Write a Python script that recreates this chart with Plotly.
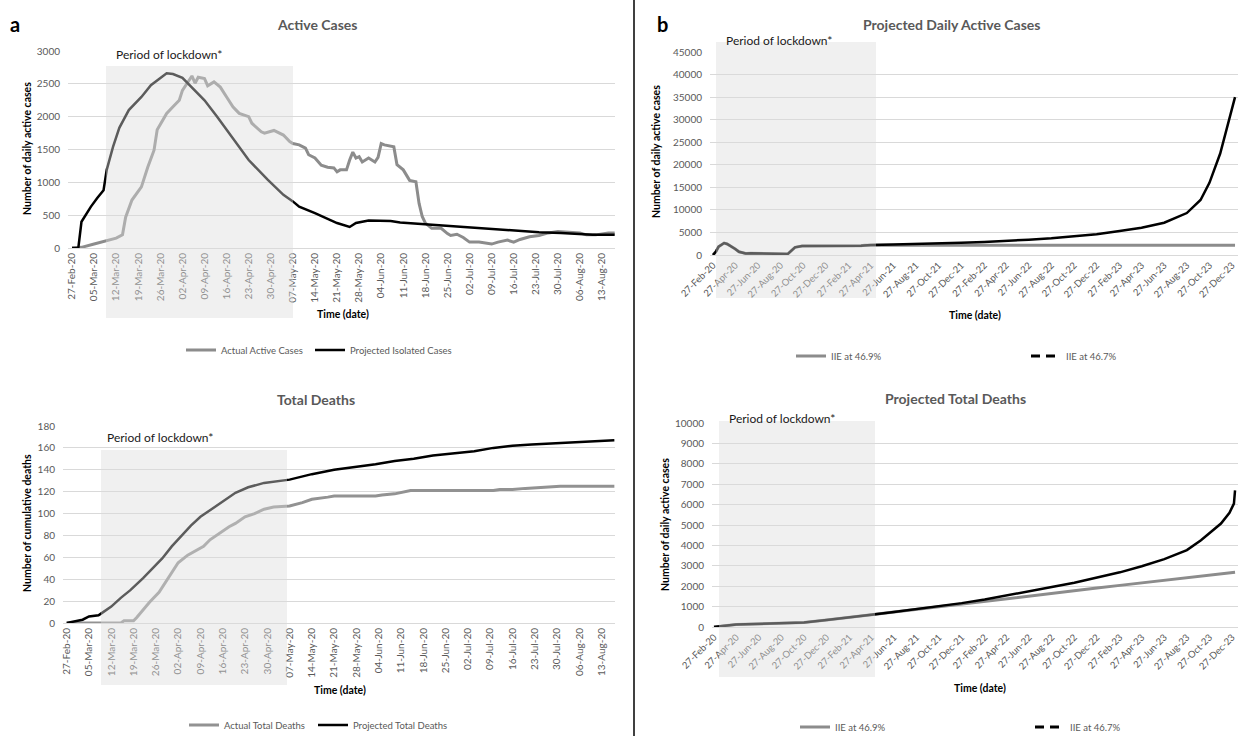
import pandas as pd
import plotly.graph_objects as go

W, H = 1238, 736
START = pd.Timestamp("2020-02-27")

# ---------------- data ----------------
# Panel a (top): Active cases, day offsets from 27-Feb-20
active_actual_day = [0, 3, 7, 11, 14, 16, 17, 19, 22, 24,
                     26, 27, 30, 32, 34, 35, 37, 38, 39, 40,
                     42, 43, 45, 47, 49, 51, 52, 53, 56, 57,
                     60, 61, 64, 67, 69, 70, 72, 74, 75, 77,
                     79, 81, 83, 84, 85, 87, 88, 89, 90, 91,
                     92, 94, 96, 97, 98, 99, 102, 103, 105, 107,
                     109, 110, 111, 112, 114, 117, 119, 120, 122, 124,
                     126, 129, 133, 135, 138, 140, 142, 145, 148, 151,
                     154, 157, 161, 163, 166, 170, 172]
active_actual = [0, 10, 60, 110, 150, 200, 470, 730, 930, 1230,
                 1490, 1800, 2050, 2150, 2250, 2400, 2560, 2620, 2510, 2600,
                 2580, 2470, 2530, 2450, 2300, 2150, 2100, 2050, 2000, 1900,
                 1770, 1750, 1790, 1720, 1620, 1590, 1570, 1520, 1420, 1370,
                 1260, 1230, 1220, 1160, 1190, 1190, 1340, 1460, 1370, 1390,
                 1310, 1370, 1310, 1380, 1590, 1570, 1540, 1270, 1190, 1030,
                 1010, 680, 480, 380, 300, 300, 220, 190, 210, 160,
                 90, 90, 60, 90, 120, 90, 130, 170, 190, 230,
                 250, 240, 230, 200, 200, 230, 230]

active_proj_day = [0, 2, 3, 6, 8, 10, 11, 13, 15, 18,
                   22, 25, 30, 32, 35, 38, 42, 46, 51, 56,
                   62, 67, 70, 72, 77, 81, 84, 88, 90, 94,
                   101, 104, 110, 117, 123, 129, 136, 142, 148, 155,
                   161, 165, 172]
active_proj = [0, 0, 400, 630, 760, 880, 1190, 1540, 1830, 2100,
               2300, 2480, 2660, 2650, 2590, 2450, 2250, 2000, 1670, 1340,
               1040, 810, 710, 630, 530, 450, 380, 320, 380, 420,
               410, 390, 370, 350, 330, 300, 280, 260, 240, 230,
               210, 200, 200]

# Panel a (bottom): Total deaths
deaths_actual_day = [0, 17, 18, 21, 22, 24, 26, 29, 31, 33,
                     35, 38, 40, 43, 45, 48, 51, 53, 56, 59,
                     62, 65, 70, 74, 77, 82, 84, 97, 99, 103,
                     105, 108, 111, 134, 136, 140, 144, 150, 155, 172]
deaths_actual = [0, 0, 2, 2, 5, 12, 19, 28, 37, 45,
                 55, 62, 65, 70, 76, 82, 88, 91, 97, 100,
                 104, 106, 107, 110, 113, 115, 116, 116, 117, 118,
                 119, 121, 121, 121, 122, 122, 123, 124, 125, 125]

deaths_proj_day = [0, 5, 7, 10, 11, 14, 17, 20, 24, 27,
                   30, 33, 36, 39, 42, 46, 49, 53, 57, 62,
                   70, 77, 84, 90, 97, 103, 109, 115, 122, 128,
                   134, 140, 146, 152, 159, 165, 172]
deaths_proj = [0, 3, 6, 7, 9, 15, 23, 30, 41, 50,
               59, 70, 80, 89, 97, 105, 111, 119, 124, 128,
               131, 136, 140, 142, 145, 148, 150, 153, 155, 157,
               160, 162, 163, 164, 165, 166, 167]

a_tick_labels = ["27-Feb-20", "05-Mar-20", "12-Mar-20", "19-Mar-20", "26-Mar-20",
                 "02-Apr-20", "09-Apr-20", "16-Apr-20", "23-Apr-20", "30-Apr-20",
                 "07-May-20", "14-May-20", "21-May-20", "28-May-20", "04-Jun-20",
                 "11-Jun-20", "18-Jun-20", "25-Jun-20", "02-Jul-20", "09-Jul-20",
                 "16-Jul-20", "23-Jul-20", "30-Jul-20", "06-Aug-20", "13-Aug-20"]

# Panel b (top): Projected daily active cases
b_active_469_date = ["2020-02-27", "2020-03-06", "2020-03-13", "2020-03-20", "2020-03-28",
                     "2020-04-05", "2020-04-15", "2020-04-27", "2020-05-07", "2020-05-25",
                     "2020-06-08", "2020-07-01", "2020-08-01", "2020-09-15", "2020-10-05",
                     "2020-10-24", "2021-04-01", "2021-04-10", "2024-01-04"]
b_active_469 = [0, 760, 1830, 2300, 2650,
                2450, 2000, 1340, 710, 320,
                410, 330, 240, 200, 1700,
                2000, 2050, 2150, 2150]

b_active_467_date = ["2020-02-27", "2020-03-06", "2020-03-13", "2020-03-20", "2020-03-28",
                     "2020-04-05", "2020-04-15", "2020-04-27", "2020-05-07", "2020-05-25",
                     "2020-06-08", "2020-07-01", "2020-08-01", "2020-09-15", "2020-10-05",
                     "2020-10-24", "2021-04-01", "2021-04-27", "2021-06-27", "2021-08-27",
                     "2021-10-27", "2021-12-27", "2022-02-27", "2022-04-27", "2022-06-27",
                     "2022-08-27", "2022-10-27", "2022-12-27", "2023-02-27", "2023-04-27",
                     "2023-06-27", "2023-08-27", "2023-10-03", "2023-10-27", "2023-11-25",
                     "2023-12-21", "2024-01-04"]
b_active_467 = [0, 760, 1830, 2300, 2650,
                2450, 2000, 1340, 710, 320,
                410, 330, 240, 200, 1700,
                2000, 2050, 2200, 2300, 2400,
                2500, 2700, 2900, 3100, 3400,
                3700, 4100, 4600, 5300, 6050,
                7150, 9300, 12200, 16000, 22500,
                31000, 35000]

# Panel b (bottom): Projected total deaths
b_deaths_469_date = ["2020-02-27", "2020-03-06", "2020-03-27", "2020-04-27", "2020-05-27",
                     "2020-06-27", "2020-08-27", "2020-10-01", "2020-10-27", "2020-12-27",
                     "2021-02-27", "2021-04-27", "2021-06-27", "2021-08-27", "2021-10-27",
                     "2021-12-27", "2022-02-27", "2022-04-27", "2022-06-27", "2022-08-27",
                     "2022-10-27", "2022-12-27", "2023-02-27", "2023-04-27", "2023-06-27",
                     "2023-08-27", "2023-10-27", "2023-12-27", "2024-01-04"]
b_deaths_469 = [0, 7, 59, 124, 139,
                154, 170, 185, 220, 340,
                460, 600, 730, 865, 1000,
                1130, 1265, 1395, 1530, 1665,
                1790, 1910, 2040, 2160, 2280,
                2400, 2520, 2650, 2680]

b_deaths_467_date = ["2020-02-27", "2020-03-06", "2020-03-27", "2020-04-27", "2020-05-27",
                     "2020-06-27", "2020-08-27", "2020-10-01", "2020-10-27", "2020-12-27",
                     "2021-02-27", "2021-04-27", "2021-06-27", "2021-08-27", "2021-10-27",
                     "2021-12-27", "2022-02-27", "2022-04-27", "2022-06-27", "2022-08-27",
                     "2022-10-27", "2022-12-27", "2023-02-27", "2023-04-27", "2023-06-27",
                     "2023-08-27", "2023-10-04", "2023-11-27", "2023-12-20", "2024-01-01",
                     "2024-01-04"]
b_deaths_467 = [0, 7, 59, 124, 139,
                154, 170, 185, 220, 340,
                460, 600, 730, 865, 1000,
                1170, 1350, 1540, 1750, 1960,
                2170, 2410, 2680, 2980, 3330,
                3770, 4250, 5070, 5600, 6050,
                6700]

b_tick_labels = ["27-Feb-20", "27-Apr-20", "27-Jun-20", "27-Aug-20", "27-Oct-20", "27-Dec-20",
                 "27-Feb-21", "27-Apr-21", "27-Jun-21", "27-Aug-21", "27-Oct-21", "27-Dec-21",
                 "27-Feb-22", "27-Apr-22", "27-Jun-22", "27-Aug-22", "27-Oct-22", "27-Dec-22",
                 "27-Feb-23", "27-Apr-23", "27-Jun-23", "27-Aug-23", "27-Oct-23", "27-Dec-23"]

# ---------------- helpers ----------------
def days_to_dates(days):
    return [START + pd.Timedelta(days=d) for d in days]

def px(p):
    return p / W

def py(p):
    return 1 - p / H

def drange(d0, d1):
    return [str(START + pd.Timedelta(days=d0)), str(START + pd.Timedelta(days=d1))]

FONT = "Lato, 'Open Sans', sans-serif"
GRAY_TXT = "#595959"
GRID = "#d9d9d9"
GRAY_LINE = "#8c8c8c"

a_tickvals = pd.to_datetime(a_tick_labels, format="%d-%b-%y")
b_tickvals = pd.to_datetime(b_tick_labels, format="%d-%b-%y")

fig = go.Figure()

# Panel a top
fig.add_trace(go.Scatter(x=days_to_dates(active_actual_day), y=active_actual, mode="lines",
                         name="Actual Active Cases", line=dict(color=GRAY_LINE, width=3),
                         xaxis="x", yaxis="y", legend="legend"))
fig.add_trace(go.Scatter(x=days_to_dates(active_proj_day), y=active_proj, mode="lines",
                         name="Projected Isolated Cases", line=dict(color="#000000", width=2.5),
                         xaxis="x", yaxis="y", legend="legend2"))
# Panel a bottom
fig.add_trace(go.Scatter(x=days_to_dates(deaths_actual_day), y=deaths_actual, mode="lines",
                         name="Actual Total Deaths", line=dict(color="#929292", width=3),
                         xaxis="x2", yaxis="y2", legend="legend3"))
fig.add_trace(go.Scatter(x=days_to_dates(deaths_proj_day), y=deaths_proj, mode="lines",
                         name="Projected Total Deaths", line=dict(color="#000000", width=2.5),
                         xaxis="x2", yaxis="y2", legend="legend4"))
# Panel b top
fig.add_trace(go.Scatter(x=b_active_469_date, y=b_active_469, mode="lines",
                         name="IIE at 46.9%", line=dict(color=GRAY_LINE, width=3),
                         xaxis="x3", yaxis="y3", legend="legend5"))
fig.add_trace(go.Scatter(x=b_active_467_date, y=b_active_467, mode="lines",
                         name="IIE at 46.7%", line=dict(color="#000000", width=2.5),
                         xaxis="x3", yaxis="y3", showlegend=False))
fig.add_trace(go.Scatter(x=[None], y=[None], mode="lines", name="IIE at 46.7%",
                         line=dict(color="#000000", width=3, dash="9px,6px"),
                         xaxis="x3", yaxis="y3", legend="legend6"))
# Panel b bottom
fig.add_trace(go.Scatter(x=b_deaths_469_date, y=b_deaths_469, mode="lines",
                         name="IIE at 46.9%", line=dict(color=GRAY_LINE, width=3),
                         xaxis="x4", yaxis="y4", legend="legend7"))
fig.add_trace(go.Scatter(x=b_deaths_467_date, y=b_deaths_467, mode="lines",
                         name="IIE at 46.7%", line=dict(color="#000000", width=2.5),
                         xaxis="x4", yaxis="y4", showlegend=False))
fig.add_trace(go.Scatter(x=[None], y=[None], mode="lines", name="IIE at 46.7%",
                         line=dict(color="#000000", width=3, dash="9px,6px"),
                         xaxis="x4", yaxis="y4", legend="legend8"))

def xax(domain, rng, tickvals, ticktext, angle, size, anchor):
    return dict(domain=domain, range=rng, type="date", tickvals=tickvals, ticktext=ticktext,
                tickangle=angle, tickfont=dict(size=size, color=GRAY_TXT, family=FONT),
                ticklabeloverflow="allow",
                showgrid=False, showline=True, linecolor=GRID, linewidth=1, zeroline=False,
                ticks="", anchor=anchor, fixedrange=True)

def yax(domain, rng, dtick, anchor):
    return dict(domain=domain, range=rng, dtick=dtick, tickmode="linear", tick0=0,
                tickformat="d",
                tickfont=dict(size=10, color=GRAY_TXT, family=FONT),
                showgrid=True, gridcolor=GRID, gridwidth=1, zeroline=False, showline=False,
                ticks="", ticklabelstandoff=7, anchor=anchor, fixedrange=True)

layout = dict(
    width=W, height=H, margin=dict(l=0, r=0, t=0, b=0, autoexpand=False),
    paper_bgcolor="white", plot_bgcolor="white",
    font=dict(family=FONT, color=GRAY_TXT),
    hovermode=False,
    xaxis=xax([px(68), px(615)], drange(-1.27, 172.1), a_tickvals, a_tick_labels, -90, 10, "y"),
    yaxis=yax([py(248), py(51)], [0, 3000], 500, "x"),
    xaxis2=xax([px(63), px(615)], drange(-1.16, 172.2), a_tickvals, a_tick_labels, -90, 10, "y2"),
    yaxis2=yax([py(623), py(426)], [0, 180], 20, "x2"),
    xaxis3=xax([px(710), 1.0], drange(-8.1, 1415), b_tickvals, b_tick_labels, -45, 9.5, "y3"),
    yaxis3=yax([py(255), py(52)], [0, 45000], 5000, "x3"),
    xaxis4=xax([px(712), 1.0], drange(-5.4, 1415), b_tickvals, b_tick_labels, -45, 9.5, "y4"),
    yaxis4=yax([py(627), py(423)], [0, 10000], 1000, "x4"),
)

def leg(xp, yp):
    return dict(x=px(xp), y=py(yp), xanchor="left", yanchor="middle", orientation="h",
                bgcolor="rgba(0,0,0,0)", borderwidth=0, itemwidth=30,
                font=dict(size=9.5, color=GRAY_TXT, family=FONT))

layout["legend"] = leg(181, 350)
layout["legend2"] = leg(310, 350)
layout["legend3"] = leg(184, 725)
layout["legend4"] = leg(313, 725)
layout["legend5"] = leg(791, 356)
layout["legend6"] = leg(1026, 356)
layout["legend7"] = leg(795, 727)
layout["legend8"] = leg(1030, 727)

fig.update_layout(**layout)

# Lockdown shading overlays and divider
shade = "rgba(220,220,220,0.42)"
for (x0, x1, y0, y1) in [(106, 293, 66, 318), (101, 287, 450, 685),
                         (716, 876, 42, 298), (719, 875, 421, 677)]:
    fig.add_shape(type="rect", xref="paper", yref="paper", x0=px(x0), x1=px(x1),
                  y0=py(y1), y1=py(y0), fillcolor=shade, line=dict(width=0), layer="above")
fig.add_shape(type="line", xref="paper", yref="paper", x0=px(634), x1=px(634), y0=0, y1=1,
              line=dict(color="#000000", width=1.5), layer="above")

def ann(text, x, y, size, color, bold=False, angle=0, xanchor="center"):
    fig.add_annotation(text=f"<b>{text}</b>" if bold else text, x=px(x), y=py(y),
                       xref="paper", yref="paper", showarrow=False, textangle=angle,
                       xanchor=xanchor, yanchor="middle",
                       font=dict(size=size, color=color, family=FONT))

# Panel letters
ann("a", 15, 24, 20, "#000000", bold=True)
ann("b", 662, 24, 20, "#000000", bold=True)
# Titles
ann("Active Cases", 317, 25, 14, GRAY_TXT, bold=True)
ann("Total Deaths", 316, 399, 14, GRAY_TXT, bold=True)
ann("Projected Daily Active Cases", 951, 25, 14, GRAY_TXT, bold=True)
ann("Projected Total Deaths", 955, 398, 14, GRAY_TXT, bold=True)
# Lockdown labels
for (x, y) in [(114, 55), (105, 437), (724, 41), (727, 418)]:
    ann("Period of lockdown*", x, y, 12, "#1a1a1a", xanchor="left")
# Axis titles
ann("Number of daily active cases", 27, 149, 10.5, "#000000", bold=True, angle=-90)
ann("Number of cumulative deaths", 27, 523, 10.5, "#000000", bold=True, angle=-90)
ann("Number of daily active cases", 656, 152, 10.5, "#000000", bold=True, angle=-90)
ann("Number of daily active cases", 665, 525, 10.5, "#000000", bold=True, angle=-90)
ann("Time (date)", 343, 314, 10.5, "#000000", bold=True)
ann("Time (date)", 340, 690, 10.5, "#000000", bold=True)
ann("Time (date)", 975, 315, 10.5, "#000000", bold=True)
ann("Time (date)", 980, 688, 10.5, "#000000", bold=True)

fig.write_html("out.html", config={"displayModeBar": False},
               post_script="document.body.style.margin='0px';document.body.style.overflow='hidden';")
